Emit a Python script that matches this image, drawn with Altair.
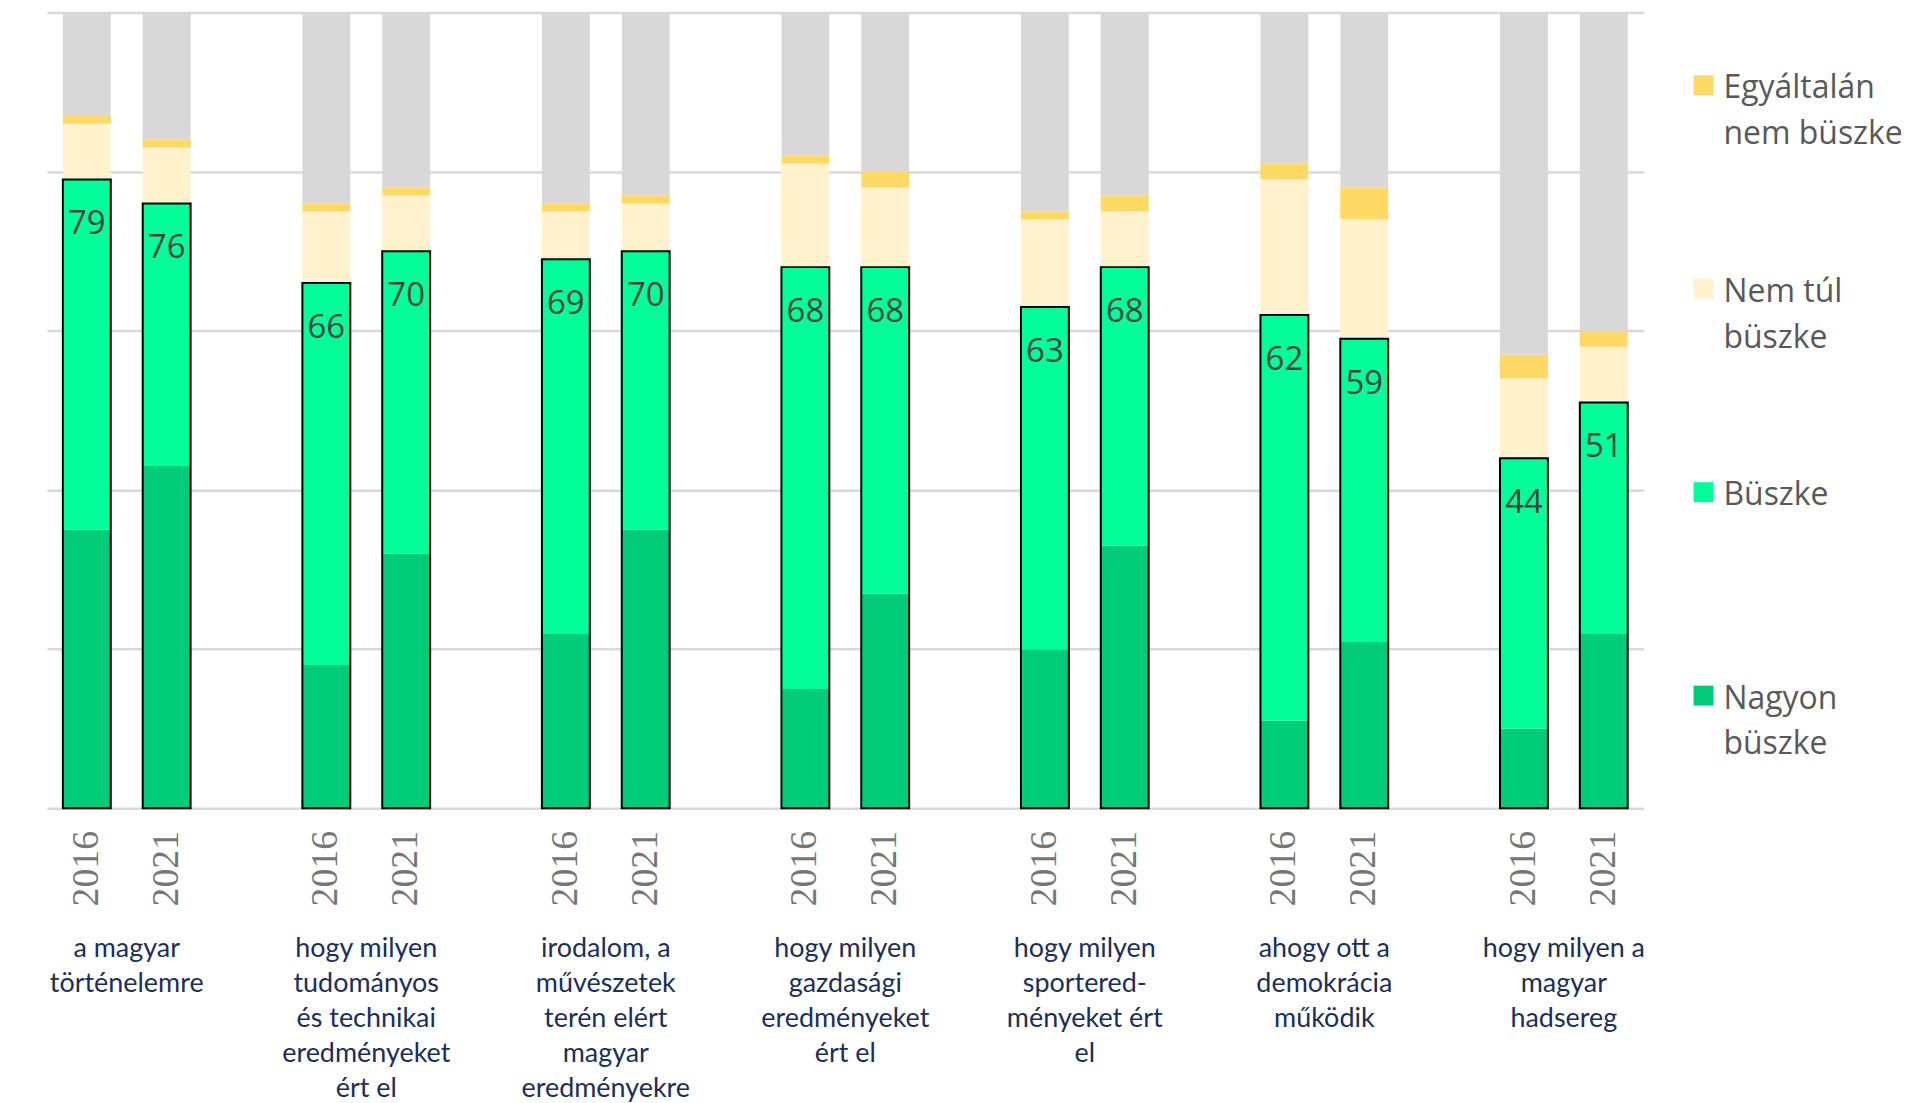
import altair as alt
import pandas as pd

# ---- data ----
categories = [
    "a magyar\ntörténelemre",
    "hogy milyen\ntudományos\nés technikai\neredményeket\nért el",
    "irodalom, a\nművészetek\nterén elért\nmagyar\neredményekre",
    "hogy milyen\ngazdasági\neredményeket\nért el",
    "hogy milyen\nsportered-\nményeket ért\nel",
    "ahogy ott a\ndemokrácia\nműködik",
    "hogy milyen a\nmagyar\nhadsereg",
]
years = ["2016", "2021"]

# one value per bar: (cat0 2016, cat0 2021, cat1 2016, ...)
nagyon_buszke = [35, 43, 18, 32, 22, 35, 15, 27, 20, 33, 11, 21, 10, 22]
buszke = [44, 33, 48, 38, 47, 35, 53, 41, 43, 35, 51, 38, 34, 29]
nem_tul_buszke = [7, 7, 9, 7, 6, 6, 13, 10, 11, 7, 17, 15, 10, 7]
egyaltalan_nem = [1, 1, 1, 1, 1, 1, 1, 2, 1, 2, 2, 4, 3, 2]
nem_tudja = [13, 16, 24, 22, 24, 23, 18, 20, 25, 23, 19, 22, 43, 40]
bar_labels = [79, 76, 66, 70, 69, 70, 68, 68, 63, 68, 62, 59, 44, 51]

segments = ["Nagyon büszke", "Büszke", "Nem túl büszke", "Egyáltalán nem büszke", "Nem tudja"]
seg_colors = ["#00CC7A", "#00FF99", "#FFF2CC", "#FFD966", "#D8D8D8"]
legend_items = ["Egyáltalán\nnem büszke", "Nem túl\nbüszke", "Büszke", "Nagyon\nbüszke"]
legend_colors = ["#FFD966", "#FFF2CC", "#00FF99", "#00CC7A"]

# ---- build tables ----
domain = []
for g in range(len(categories)):
    domain += [f"{g}|{y}" for y in years]
    if g < len(categories) - 1:
        domain.append(f"{g}|")

series = [nagyon_buszke, buszke, nem_tul_buszke, egyaltalan_nem, nem_tudja]
rows, tot_rows = [], []
i = 0
for g in range(len(categories)):
    for y in years:
        key = f"{g}|{y}"
        for s, (name, vals) in enumerate(zip(segments, series)):
            rows.append({"key": key, "segment": name, "seg_idx": s, "value": vals[i]})
        tot_rows.append({"key": key, "total": bar_labels[i]})
        i += 1
df = pd.DataFrame(rows)
df_tot = pd.DataFrame(tot_rows)
df_cat = pd.DataFrame({"key": [f"{g}|2021" for g in range(len(categories))], "label": categories})
df_leg = pd.DataFrame({"idx": list(range(len(legend_items))), "label": legend_items, "c": legend_colors})

W, H = 1601, 798
step = W / len(domain)

xscale = alt.Scale(domain=domain, paddingInner=0.4, paddingOuter=0.2)
xaxis = alt.Axis(
    title=None, ticks=False, domain=False, grid=False,
    labelAngle=270, labelPadding=22, labelFont="Liberation Serif",
    labelFontSize=38, labelColor="#767676",
    labelExpr="substring(datum.value, 2)",
)
yscale = alt.Scale(domain=[0, 100], nice=False)
yaxis = alt.Axis(
    title=None, labels=False, ticks=False, domain=False,
    values=[0, 20, 40, 60, 80, 100], gridColor="#D9D9D9", gridWidth=2.5,
)

bars = alt.Chart(df).mark_bar().encode(
    x=alt.X("key:N", scale=xscale, axis=xaxis),
    y=alt.Y("value:Q", stack="zero", scale=yscale, axis=yaxis),
    color=alt.Color("segment:N", scale=alt.Scale(domain=segments, range=seg_colors), legend=None),
    order=alt.Order("seg_idx:Q", sort="ascending"),
)

outline = alt.Chart(df_tot).mark_bar(fillOpacity=0, stroke="black", strokeWidth=2).encode(
    x=alt.X("key:N", scale=xscale),
    y=alt.Y("total:Q", scale=yscale),
)

values_text = alt.Chart(df_tot).mark_text(
    baseline="alphabetic", dy=55, font="Open Sans", fontSize=33, color="#404040"
).encode(
    x=alt.X("key:N", scale=xscale),
    y=alt.Y("total:Q", scale=yscale),
    text=alt.Text("total:Q"),
)

cat_text = alt.Chart(df_cat).mark_text(
    lineBreak="\n", lineHeight=35, baseline="alphabetic", align="center",
    dx=-step / 2, dy=149, font="Lato", fontSize=27, color="#1A2F5E",
).encode(
    x=alt.X("key:N", scale=xscale),
    y=alt.value(H),
    text="label:N",
)

main = alt.layer(bars, outline, values_text, cat_text).properties(width=W, height=H)

leg_y = alt.Y("idx:O", axis=None, scale=alt.Scale(type="point", padding=0.358))
leg_sq = alt.Chart(df_leg).mark_square(size=400, opacity=1).encode(
    x=alt.value(10), y=leg_y, color=alt.Color("c:N", scale=None)
)
leg_tx = alt.Chart(df_leg).mark_text(
    align="left", baseline="top", dy=-12, lineBreak="\n", lineHeight=46,
    font="Open Sans", fontSize=32, color="#595959",
).encode(x=alt.value(30), y=leg_y, text="label:N")
legend = alt.layer(leg_sq, leg_tx).properties(width=200, height=758)

chart = alt.hconcat(main, legend, spacing=46).properties(
    padding={"left": 38, "top": 2, "right": 5, "bottom": 5},
    background="white",
).configure_view(stroke="transparent", fill="white")

chart.save("out.html", embed_options={"renderer": "svg", "actions": False})
